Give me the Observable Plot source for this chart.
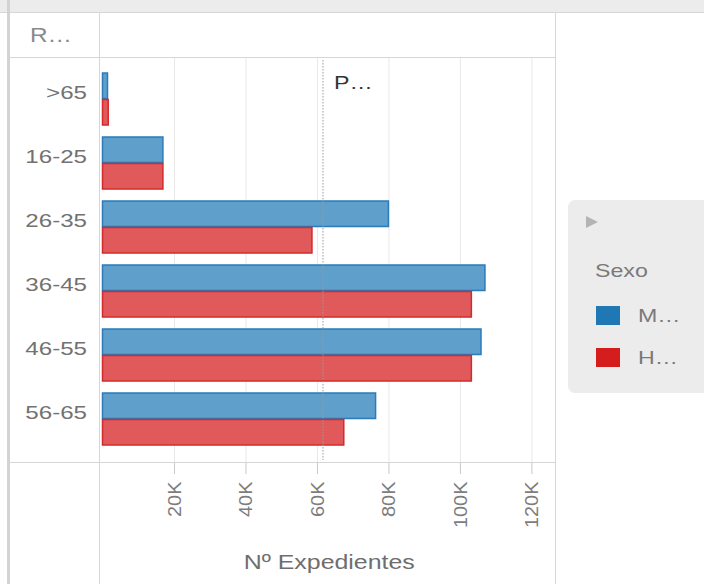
<!DOCTYPE html>
<html><head><meta charset="utf-8">
<script src="https://cdn.jsdelivr.net/npm/d3@7"></script>
<script src="https://cdn.jsdelivr.net/npm/@observablehq/plot@0.6"></script>
<style>
body{margin:0;width:704px;height:584px;overflow:hidden;background:#fff;font-family:"Liberation Sans",Arial,sans-serif;position:relative}
.abs{position:absolute}
.txt{position:absolute;white-space:nowrap;transform:scaleX(1.22);transform-origin:0 50%;line-height:1}
</style></head><body>
<div id="chart" class="abs" style="left:10px;top:57px"></div>
<div class="abs" style="left:0;top:0;width:704px;height:12px;background:#ececec;border-bottom:1px solid #d6d6d6"></div>
<div class="abs" style="left:7px;top:0;width:3px;height:584px;background:#d3d3d3"></div>
<div class="abs" style="left:10px;top:57px;width:545px;height:1px;background:#d6d6d6"></div>
<div class="abs" style="left:99px;top:13px;width:1px;height:571px;background:#d6d6d6"></div>
<div class="abs" style="left:555px;top:13px;width:1px;height:571px;background:#d6d6d6"></div>
<div class="abs" style="left:10px;top:462px;width:545px;height:1px;background:#d6d6d6"></div>
<div class="txt" style="left:30px;top:25px;font-size:20px;color:#8a8a8a">R…</div>
<div class="abs" style="left:568px;top:200px;width:150px;height:193px;background:#ececec;border-radius:7px"></div>
<div class="abs" style="left:586px;top:216px;width:0;height:0;border-left:12px solid #b4b4b4;border-top:6px solid transparent;border-bottom:6px solid transparent"></div>
<div class="txt" style="left:595px;top:261px;font-size:19px;color:#7a7a7a">Sexo</div>
<div id="legend"></div>
<script>
const ageGroups = [">65", "16-25", "26-35", "36-45", "46-55", "56-65"];
const sexes = ["M…", "H…"];
const sexColors = ["#1f77b4", "#d61d1d"];
const mujeres = [1400, 16900, 80000, 107000, 105900, 76400];
const hombres = [1600, 16900, 58600, 103200, 103200, 67500];
const xTicks = [20000, 40000, 60000, 80000, 100000, 120000];
const xTitle = "Nº Expedientes";

const rows = ageGroups.flatMap((g, i) => [
  {age: g, sexo: sexes[0], n: mujeres[i]},
  {age: g, sexo: sexes[1], n: hombres[i]}
]);
const promedio = d3.mean(rows, d => d.n);

const plot = Plot.plot({
  width: 545, height: 527,
  marginLeft: 92.5, marginRight: 0, marginTop: 0, marginBottom: 122,
  style: {background: "transparent", fontFamily: "Liberation Sans, Arial, sans-serif", fontSize: "15px", overflow: "visible"},
  x: {domain: [0, 126600], ticks: xTicks, tickFormat: d => d / 1000 + "K", label: xTitle, labelArrow: false,
      labelAnchor: "center", labelOffset: 106, tickRotate: -90, tickSize: 12, tickPadding: 7},
  y: {domain: ageGroups, paddingInner: 0.18, paddingOuter: 0.23, label: null, tickSize: 0, tickPadding: 16},
  marks: [
    Plot.gridX(xTicks, {stroke: "#e8e8e8", strokeOpacity: 1}),
    Plot.barX(rows.filter(d => d.sexo === sexes[0]), {x: "n", y: "age", fill: "#5f9fcb", stroke: "#2b7bba", strokeWidth: 1.5, insetBottom: 26.5}),
    Plot.barX(rows.filter(d => d.sexo === sexes[1]), {x: "n", y: "age", fill: "#e05a5c", stroke: "#d42a2a", strokeWidth: 1.5, insetTop: 26.5}),
    Plot.ruleX([promedio], {stroke: "#9a9a9a", strokeDasharray: "1.5,1.5", insetTop: 3, insetBottom: 2}),
    Plot.text([promedio], {x: d => d, frameAnchor: "top", text: () => "P…", dx: 11, dy: 18, textAnchor: "start", fill: "#333", fontSize: 19})
  ]
});
document.getElementById("chart").appendChild(plot);

const shift = (el, dx, dy) => {
  const tr = el.getAttribute("transform");
  el.setAttribute("transform", `translate(${dx},${dy})` + (tr ? " " + tr : ""));
};
// style axis texts
d3.select(plot).selectAll("text").each(function() {
  if (this.textContent.includes("→")) this.textContent = xTitle;
  const t = this.textContent;
  const s = d3.select(this);
  let k = 1.22;
  if (ageGroups.includes(t)) {
    s.style("font-size", "19px").style("fill", "#727272");
    shift(this, 0, -6.5);
    k = 1.27;
  } else if (/K$/.test(t)) {
    s.style("fill", "#7d7d7d").style("font-size", "19px");
    k = 1.05;
  } else if (t === xTitle) {
    s.style("font-size", "20px").style("fill", "#6e6e6e");
    k = 1.245;
  }
  const len = this.getComputedTextLength();
  if (len > 0) { this.setAttribute("textLength", len * k); this.setAttribute("lengthAdjust", "spacingAndGlyphs"); }
});
d3.select(plot).selectAll("[aria-label^='x-axis'] path, [aria-label^='x-axis'] line").attr("stroke", "#c8c8c8");

// legend
const legend = document.getElementById("legend");
sexes.forEach((s, i) => {
  const top = 306 + i * 42;
  const sw = document.createElement("div");
  sw.className = "abs";
  sw.style.cssText = `left:596px;top:${top}px;width:24px;height:19px;background:${sexColors[i]}`;
  legend.appendChild(sw);
  const lb = document.createElement("div");
  lb.className = "txt";
  lb.style.cssText += `left:638px;top:${top}px;font-size:19px;color:#7a7a7a`;
  lb.textContent = s;
  legend.appendChild(lb);
});
</script>
</body></html>
